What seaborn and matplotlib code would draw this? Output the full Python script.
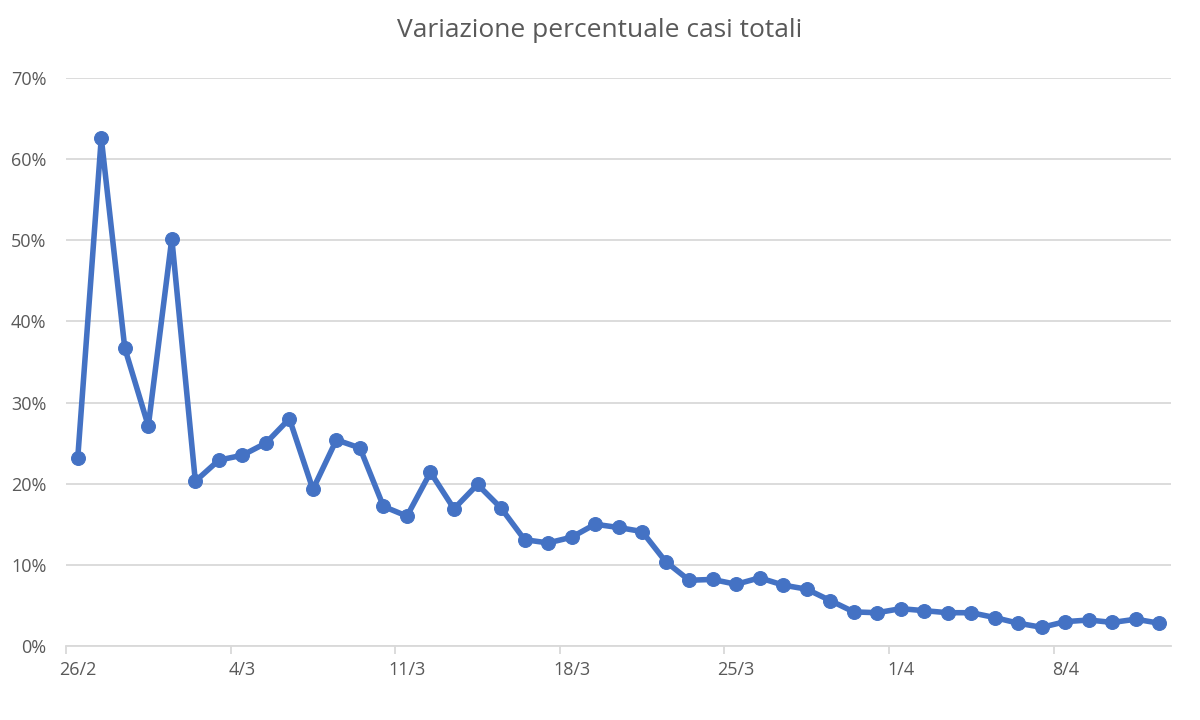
import matplotlib
matplotlib.use("Agg")
import matplotlib.pyplot as plt
import seaborn as sns
import pandas as pd
from matplotlib.ticker import FixedLocator, PercentFormatter

TITLE = "Variazione percentuale casi totali"

# days from 26/2 to 12/4 (2020)
dates = (
    ["26/2", "27/2", "28/2", "29/2"]
    + [f"{d}/3" for d in range(1, 32)]
    + [f"{d}/4" for d in range(1, 13)]
)

# percent change of total cases
variazione = [
    23.2, 62.6, 36.7, 27.1, 50.2, 20.3, 22.9, 23.5, 25.0, 28.0,
    19.3, 25.4, 24.4, 17.2, 16.0, 21.4, 16.9, 19.9, 17.0, 13.1,
    12.7, 13.4, 15.0, 14.6, 14.1, 10.4, 8.1, 8.2, 7.6, 8.4,
    7.5, 7.0, 5.6, 4.2, 4.1, 4.6, 4.35, 4.1, 4.1, 3.5,
    2.8, 2.3, 3.0, 3.2, 2.9, 3.3, 2.8,
]

label_every = 7


def main():
    df = pd.DataFrame({"giorno": range(len(dates)), "data": dates, "variazione": variazione})

    sns.set_theme(style="white")
    plt.rcParams["font.family"] = ["Open Sans", "DejaVu Sans"]
    text_color = "#595959"
    grid_color = "#D9D9D9"
    blue = "#4472C4"

    fig = plt.figure(figsize=(12, 7.2), dpi=100)
    ax = fig.add_axes([0.055, 0.1028, 0.921, 0.789])

    sns.lineplot(
        data=df, x="giorno", y="variazione", ax=ax,
        color=blue, linewidth=4, marker="o", markersize=10,
        markeredgecolor=blue, markerfacecolor=blue,
    )

    n = len(dates)
    ax.set_xlim(-0.5, n - 0.5)
    ax.set_ylim(0, 70)
    ax.set_yticks(range(0, 71, 10))
    ax.yaxis.set_major_formatter(PercentFormatter(decimals=0))
    ax.grid(axis="y", color=grid_color, linewidth=1.3)
    ax.set_axisbelow(True)

    # labels every 7 days, tick marks on the category boundaries
    major = list(range(0, n, label_every))
    ax.set_xticks(major)
    ax.set_xticklabels([dates[i] for i in major])
    ax.xaxis.set_minor_locator(FixedLocator([i - 0.5 for i in major]))
    ax.tick_params(axis="x", which="major", length=0, pad=11, labelsize=13, labelcolor=text_color)
    ax.tick_params(axis="x", which="minor", length=6, width=1.3, color=grid_color, direction="out", bottom=True)
    ax.tick_params(axis="y", length=0, pad=14, labelsize=13, labelcolor=text_color)

    for side in ["top", "right", "left"]:
        ax.spines[side].set_visible(False)
    ax.spines["bottom"].set_color(grid_color)
    ax.spines["bottom"].set_linewidth(1.3)

    ax.set_xlabel("")
    ax.set_ylabel("")
    fig.suptitle(TITLE, y=0.975, fontsize=19, color=text_color)

    fig.savefig("out.png", dpi=100)
    plt.close(fig)


if __name__ == "__main__":
    main()
